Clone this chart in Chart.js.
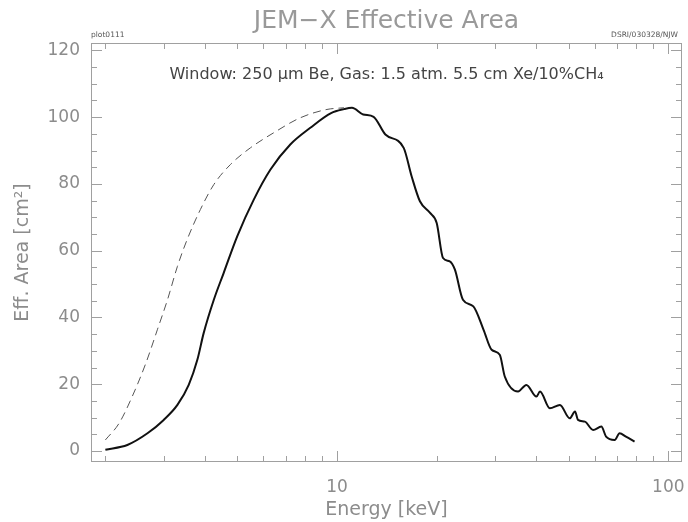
<!DOCTYPE html>
<html>
<head>
<meta charset="utf-8">
<title>JEM-X Effective Area</title>
<script src="https://cdn.jsdelivr.net/npm/chart.js@4.4.1/dist/chart.umd.min.js"></script>
<style>
  html, body { margin: 0; padding: 0; background: #fff; }
  #wrap { width: 688px; height: 522px; }
</style>
</head>
<body>
<div id="wrap"><canvas id="areaChart" width="688" height="522"></canvas></div>
<script>
// Energi (keV) dan luas efektif (cm^2), dibaca dari plot
const solidEnergy = [2.0, 2.33, 2.68, 3.0, 3.3, 3.57, 3.79, 3.96, 4.25, 4.55, 5.0, 5.61, 6.3, 7.23, 8.31, 9.6,
    10.5, 11.1, 12.0, 12.9, 14.0, 15.9, 16.8, 17.8, 19.1, 20.0, 20.9, 21.9, 22.7, 24.0, 25.8, 27.7, 29.3,
    31.0, 32.1, 35.2, 37.3, 40.0, 41.0, 43.9, 47.1, 50.4, 52.3, 53.4, 56.0, 59.3, 62.8, 64.9, 68.9, 71.3,
    74.5, 79.1];
const solidArea = [0.4, 1.8, 5.3, 9.3, 13.8, 19.8, 27.3, 35.3, 45.3, 53.3, 64.3, 75.3, 84.3, 91.8, 96.8, 101.2,
    102.4, 102.8, 100.8, 100.1, 94.8, 90.8, 82.3, 74.8, 71.3, 68.3, 57.8, 56.8, 54.3, 45.3, 43.3, 36.3, 30.3,
    28.8, 22.3, 17.8, 19.8, 16.3, 17.8, 12.8, 13.8, 9.8, 11.8, 9.3, 8.8, 6.3, 7.3, 4.3, 3.3, 5.3,
    4.3, 2.8];

// kurva putus-putus (tanpa jendela)
const dashedEnergy = [2.0, 2.2, 2.41, 2.65, 2.87, 3.08, 3.3, 3.53, 3.87, 4.25, 4.77, 5.48, 6.44, 7.75, 9.33, 10.5];
const dashedArea = [3.3, 8.3, 16.3, 26.3, 36.3, 45.3, 55.3, 63.3, 72.3, 79.8, 85.8, 90.8, 95.3, 99.8, 102.3, 102.8];

// Tick sumbu
const yMajorTicks = [0, 20, 40, 60, 80, 100, 120];
const yMinorTicks = [5, 10, 15, 25, 30, 35, 45, 50, 55, 65, 70, 75, 85, 90, 95, 105, 110, 115];
const xMajorTicks = [10, 100];
const xMinorTicks = [2, 3, 4, 5, 6, 7, 8, 9, 20, 30, 40, 50, 60, 70, 80, 90];

const toPoints = (xs, ys) => xs.map((e, i) => ({ x: e, y: ys[i] }));

// Frame + tick ke dalam ala IDL
const frameTicks = {
    id: 'frameTicks',
    afterDatasetsDraw(chart) {
        const { ctx, chartArea: a, scales: { x, y } } = chart;
        ctx.save();
        ctx.strokeStyle = '#a0a0a0';
        ctx.lineWidth = 1;
        ctx.strokeRect(Math.round(a.left) + 0.5, Math.round(a.top) + 0.5,
            Math.round(a.width) - 1, Math.round(a.height) - 1);
        const line = (x1, y1, x2, y2) => {
            ctx.beginPath();
            ctx.moveTo(x1, y1);
            ctx.lineTo(x2, y2);
            ctx.stroke();
        };
        const yTick = (v, len) => {
            const py = Math.round(y.getPixelForValue(v)) + 0.5;
            line(a.left, py, a.left + len, py);
            line(a.right, py, a.right - len, py);
        };
        const xTick = (v, len) => {
            const px = Math.round(x.getPixelForValue(v)) + 0.5;
            line(px, a.bottom, px, a.bottom - len);
            line(px, a.top, px, a.top + len);
        };
        yMajorTicks.forEach(v => yTick(v, 11));
        yMinorTicks.forEach(v => yTick(v, 6));
        xMajorTicks.forEach(v => xTick(v, 11));
        xMinorTicks.forEach(v => xTick(v, 6));
        ctx.restore();
    }
};

// Teks tambahan (label plot, stempel, keterangan detektor)
const plotNotes = {
    id: 'plotNotes',
    afterDraw(chart) {
        const { ctx, chartArea: a } = chart;
        ctx.save();
        ctx.fillStyle = '#555';
        ctx.font = '7.5px "DejaVu Sans"';
        ctx.textBaseline = 'alphabetic';
        ctx.textAlign = 'left';
        ctx.fillText('plot0111', a.left, a.top - 6);
        ctx.textAlign = 'right';
        ctx.fillText('DSRI/030328/NJW', a.right - 4, a.top - 6);

        ctx.fillStyle = '#444';
        ctx.font = '16px "DejaVu Sans"';
        ctx.textAlign = 'center';
        ctx.textBaseline = 'middle';
        ctx.fillText('Window: 250 \u03bcm Be, Gas: 1.5 atm. 5.5 cm Xe/10%CH\u2084', (a.left + a.right) / 2, 75);
        ctx.restore();
    }
};

const gray = '#8c8c8c';

new Chart(document.getElementById('areaChart'), {
    type: 'scatter',
    data: {
        datasets: [
            {
                label: 'with window',
                data: toPoints(solidEnergy, solidArea),
                showLine: true,
                borderColor: '#111',
                borderWidth: 2,
                pointRadius: 0,
                cubicInterpolationMode: 'monotone'
            },
            {
                label: 'gas only',
                data: toPoints(dashedEnergy, dashedArea),
                showLine: true,
                borderColor: '#555',
                borderWidth: 1,
                borderDash: [8, 5],
                pointRadius: 0,
                cubicInterpolationMode: 'monotone'
            }
        ]
    },
    options: {
        responsive: false,
        animation: false,
        devicePixelRatio: 1,
        layout: { padding: { left: 0, right: 6, top: 0, bottom: 0 } },
        plugins: {
            legend: { display: false },
            tooltip: { enabled: false },
            title: {
                display: true,
                text: 'JEM\u2212X Effective Area',
                fullSize: false,
                color: '#999',
                font: { family: 'DejaVu Sans', size: 25, weight: 'normal', lineHeight: 1.2 },
                padding: { top: 6, bottom: 7 }
            }
        },
        scales: {
            x: {
                type: 'logarithmic',
                min: 1.81,
                max: 110,
                grid: { display: false, drawTicks: false },
                border: { display: false },
                afterBuildTicks: (s) => { s.ticks = xMajorTicks.map(v => ({ value: v })); },
                afterFit: (s) => { s.height = 60; s.paddingLeft = 0; s.paddingRight = 0; },
                ticks: {
                    color: gray,
                    padding: 15,
                    maxRotation: 0,
                    font: { family: 'DejaVu Sans', size: 17 },
                    callback: (v) => String(v)
                },
                title: {
                    display: true,
                    text: 'Energy [keV]',
                    color: gray,
                    font: { family: 'DejaVu Sans', size: 19 },
                    padding: { top: 0, bottom: 1 }
                }
            },
            y: {
                min: -3.3,
                max: 122.2,
                grid: { display: false, drawTicks: false },
                border: { display: false },
                afterBuildTicks: (s) => { s.ticks = yMajorTicks.map(v => ({ value: v })); },
                afterFit: (s) => { s.width = 91; s.paddingTop = 0; s.paddingBottom = 0; },
                ticks: {
                    color: gray,
                    padding: 11,
                    font: { family: 'DejaVu Sans', size: 17 },
                    callback: (v) => String(v)
                },
                title: {
                    display: true,
                    text: 'Eff. Area [cm\u00b2]',
                    color: gray,
                    font: { family: 'DejaVu Sans', size: 19 },
                    padding: { top: 12, bottom: 0 }
                }
            }
        }
    },
    plugins: [frameTicks, plotNotes]
});
</script>
</body>
</html>
